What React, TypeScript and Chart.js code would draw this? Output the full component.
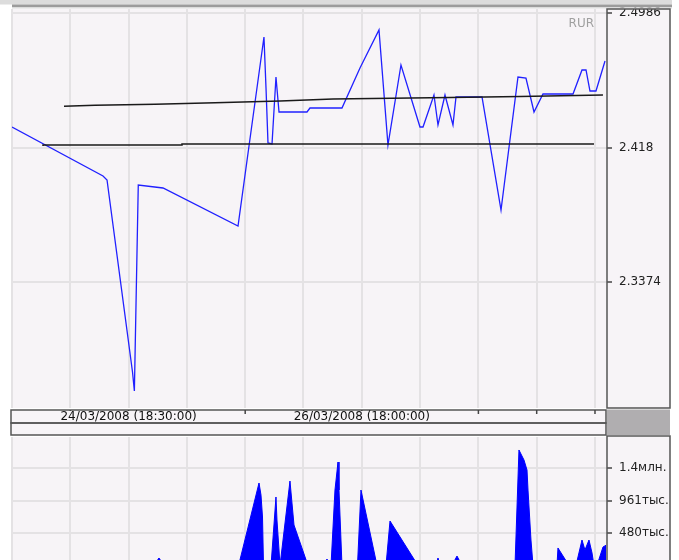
import React, { useEffect, useRef } from "react";
import { Chart, registerables } from "chart.js";
Chart.register(...registerables);

// ---- data (x in time-grid units, one unit per vertical grid line) ----
const gridUnits = [0, 1, 2, 3, 4, 5, 6, 7, 8, 9, 10];
const xMax = 10.206;

const dateLabels = ["24/03/2008 (18:30:00)", "26/03/2008 (18:00:00)"];
const dateLabelUnits = [2, 6];

const priceX = [0, 1.561, 1.63, 2.067, 2.099, 2.166, 2.59, 3.877, 4.322, 4.357, 4.391, 4.46, 4.528, 4.58, 5.06, 5.111, 5.66, 5.969, 6.295, 6.449, 6.672, 6.998, 7.05, 7.238, 7.307, 7.427, 7.564, 7.616, 8.062, 8.388, 8.679, 8.816, 8.954, 9.108, 9.623, 9.777, 9.846, 9.914, 10.017, 10.172];
const priceY = [2.4304, 2.401, 2.3986, 2.2834, 2.272, 2.3956, 2.3938, 2.371, 2.4844, 2.4538, 2.4208, 2.4202, 2.4604, 2.4394, 2.4394, 2.4418, 2.4418, 2.4658, 2.4886, 2.4196, 2.4676, 2.4304, 2.4304, 2.4496, 2.4316, 2.4496, 2.4316, 2.4484, 2.4484, 2.3806, 2.4604, 2.4598, 2.4394, 2.4502, 2.4502, 2.4646, 2.4646, 2.452, 2.452, 2.47];

const upperX = [0.892, 1.424, 2.453, 3.482, 4.597, 5.506, 7.513, 8.714, 10.137];
const upperY = [2.4428, 2.4434, 2.444, 2.445, 2.446, 2.4472, 2.4481, 2.4487, 2.4496];

const lowerX = [0.532, 2.916, 7.599, 9.983];
const lowerY = [2.419, 2.4196, 2.4202, 2.4202];

const priceMin = 2.2618;
const priceMax = 2.5012;
const priceTickVals = [2.3374, 2.418, 2.4986];
const priceTickLabels = ["2.3374", "2.418", "2.4986"];
const currencyLabel = "RUR";

const volX = [0, 2.435, 2.521, 2.607, 3.887, 4.237, 4.271, 4.297, 4.314, 4.443, 4.528, 4.545, 4.58, 4.597, 4.614, 4.768, 4.837, 5.077, 5.369, 5.403, 5.437, 5.472, 5.54, 5.592, 5.609, 5.643, 5.66, 5.926, 5.986, 6.261, 6.415, 6.484, 6.964, 7.273, 7.307, 7.341, 7.547, 7.633, 7.719, 8.628, 8.696, 8.782, 8.834, 8.851, 8.902, 8.937, 9.348, 9.365, 9.554, 9.674, 9.777, 9.828, 9.897, 9.949, 9.983, 10.034, 10.137, 10.189];
const volV = [0, 0, 111000, 0, 0, 1220000, 1042000, 717000, 0, 0, 1013000, 673000, 229000, 0, 0, 1249000, 599000, 0, 0, 96000, 0, 0, 1116000, 1530000, 1116000, 377000, 0, 0, 1116000, 0, 0, 658000, 0, 0, 111000, 0, 0, 140000, 0, 0, 1708000, 1560000, 1412000, 1116000, 377000, 0, 0, 259000, 0, 0, 377000, 229000, 377000, 185000, 0, 0, 273000, 300000];
const volMax = 1900000;
const volTickVals = [480500, 961000, 1441500];
const volTickLabels = ["480тыс.", "961тыс.", "1.4млн."];

// ---- styles ----
const BG = "#F7F4F7";
const GRID = "#E4E2E4";
const FRAME = "#555555";
const FONT = "DejaVu Sans";
const AXIS_W = 72;
const BOX_W = 63;

const pts = (xs: number[], ys: number[]) => xs.map((x, i) => ({ x, y: ys[i] }));

const bgPlugin = {
  id: "bg",
  beforeDraw(chart: any) {
    const { ctx, chartArea: a } = chart;
    ctx.save();
    ctx.fillStyle = BG;
    ctx.fillRect(a.left, a.top, a.right - a.left, a.bottom - a.top);
    ctx.fillRect(a.right, a.top, BOX_W, a.bottom - a.top);
    ctx.restore();
  },
};

const priceDecor = {
  id: "priceDecor",
  afterDraw(chart: any) {
    const { ctx, chartArea: a } = chart;
    const xs = chart.scales.x;
    ctx.save();
    // top bars
    ctx.fillStyle = "#DCDCDC";
    ctx.fillRect(0, 0, a.right + BOX_W + 2, a.top - 4.5);
    ctx.fillStyle = "#9C9C9C";
    ctx.fillRect(a.left, a.top - 4.5, a.right + BOX_W + 2 - a.left, 3);
    ctx.fillStyle = "#ECECEC";
    ctx.fillRect(a.left, a.top - 1.5, a.right + BOX_W + 2 - a.left, 1.5);
    // axis box
    ctx.strokeStyle = FRAME;
    ctx.lineWidth = 1.5;
    ctx.strokeRect(a.right, a.top, BOX_W, a.bottom - a.top);
    // currency label
    ctx.fillStyle = "#A0A0A0";
    ctx.font = `12px "${FONT}"`;
    ctx.textAlign = "right";
    ctx.textBaseline = "middle";
    ctx.fillText(currencyLabel, a.right - 13, a.top + 15);
    // date band
    const bTop = a.bottom + 2;
    const bMid = bTop + 13;
    const bBot = bTop + 25;
    const bl = a.left - 1;
    const br = a.right - 1;
    ctx.fillStyle = BG;
    ctx.fillRect(bl, bTop, br - bl, bBot - bTop);
    ctx.fillStyle = "#B0AEB0";
    ctx.fillRect(a.right, bTop - 0.5, BOX_W, bBot - bTop + 0.5);
    ctx.strokeStyle = FRAME;
    ctx.lineWidth = 1.5;
    ctx.strokeRect(bl, bTop, br - bl, bMid - bTop);
    ctx.strokeRect(bl, bMid, br - bl, bBot - bMid);
    ctx.strokeStyle = "#444";
    for (const t of xs.ticks) {
      if (t.value <= 0) continue;
      const px = xs.getPixelForValue(t.value);
      ctx.beginPath();
      ctx.moveTo(px, bTop);
      ctx.lineTo(px, bTop + 4);
      ctx.stroke();
    }
    ctx.font = `12px "${FONT}"`;
    ctx.textAlign = "center";
    ctx.textBaseline = "middle";
    dateLabels.forEach((lab, i) => {
      const px = xs.getPixelForValue(dateLabelUnits[i]);
      const w = ctx.measureText(lab).width;
      ctx.fillStyle = BG;
      ctx.fillRect(px - w / 2 - 1, bTop + 1, w + 2, bMid - bTop - 2);
      ctx.fillStyle = "#111";
      ctx.fillText(lab, px, (bTop + bMid) / 2 + 0.5);
    });
    ctx.restore();
  },
};

const volDecor = {
  id: "volDecor",
  afterDraw(chart: any) {
    const { ctx, chartArea: a } = chart;
    ctx.save();
    ctx.strokeStyle = FRAME;
    ctx.lineWidth = 1.5;
    ctx.strokeRect(a.right, a.top - 1, BOX_W, a.bottom - a.top + 40);
    ctx.restore();
  },
};

const xScale = () => ({
  type: "linear" as const,
  min: 0,
  max: xMax,
  afterBuildTicks: (s: any) => {
    s.ticks = gridUnits.map((v) => ({ value: v }));
  },
  afterFit: (s: any) => {
    s.height = 0;
    s.paddingLeft = 0;
    s.paddingRight = 0;
  },
  ticks: { display: false },
  grid: { color: GRID, lineWidth: 2, drawTicks: false },
  border: { display: false },
});

const yScale = (min: number, max: number, vals: number[], labels: string[]) => ({
  type: "linear" as const,
  position: "right" as const,
  min,
  max,
  afterBuildTicks: (s: any) => {
    s.ticks = vals.map((v) => ({ value: v }));
  },
  afterFit: (s: any) => {
    s.width = AXIS_W;
    s.paddingTop = 0;
    s.paddingBottom = 0;
  },
  ticks: {
    padding: 7,
    color: "#222",
    font: { family: FONT, size: 12 },
    callback: (_v: any, i: number) => labels[i],
  },
  grid: { color: GRID, lineWidth: 2, tickLength: 5, tickColor: "#444", tickWidth: 1.5 },
  border: { display: false },
});

export default function App() {
  const priceRef = useRef<HTMLCanvasElement>(null);
  const volRef = useRef<HTMLCanvasElement>(null);

  useEffect(() => {
    const c1 = new Chart(priceRef.current!, {
      type: "line",
      data: {
        datasets: [
          { data: pts(upperX, upperY), borderColor: "#1a1a1a", borderWidth: 1.5, pointRadius: 0, tension: 0 },
          { data: pts(lowerX, lowerY), borderColor: "#1a1a1a", borderWidth: 1.5, pointRadius: 0, tension: 0, stepped: "after" as const },
          { data: pts(priceX, priceY), borderColor: "#2020FF", borderWidth: 1.3, pointRadius: 0, tension: 0 },
        ],
      },
      options: {
        responsive: false,
        animation: false,
        events: [],
        layout: { padding: { left: 12, top: 9, right: 0, bottom: 29 } },
        plugins: { legend: { display: false }, tooltip: { enabled: false }, title: { display: false } },
        scales: {
          x: xScale(),
          y: yScale(priceMin, priceMax, priceTickVals, priceTickLabels),
        },
      } as any,
      plugins: [bgPlugin, priceDecor],
    });

    const c2 = new Chart(volRef.current!, {
      type: "line",
      data: {
        datasets: [
          {
            data: pts(volX, volV),
            borderColor: "#0000FF",
            backgroundColor: "#0000FF",
            borderWidth: 1,
            pointRadius: 0,
            tension: 0,
            fill: "origin",
          },
        ],
      },
      options: {
        responsive: false,
        animation: false,
        events: [],
        layout: { padding: { left: 12, top: 2, right: 0, bottom: 39.5 } },
        plugins: { legend: { display: false }, tooltip: { enabled: false }, title: { display: false } },
        scales: {
          x: xScale(),
          y: yScale(0, volMax, volTickVals, volTickLabels),
        },
      } as any,
      plugins: [bgPlugin, volDecor],
    });

    return () => {
      c1.destroy();
      c2.destroy();
    };
  }, []);

  return (
    <div
      style={{
        position: "absolute",
        left: 0,
        top: 0,
        width: 679,
        height: 560,
        overflow: "hidden",
        background: "#fff",
      }}
    >
      <canvas ref={priceRef} width={679} height={437} style={{ position: "absolute", left: 0, top: 0 }} />
      <canvas ref={volRef} width={679} height={170} style={{ position: "absolute", left: 0, top: 435 }} />
    </div>
  );
}
